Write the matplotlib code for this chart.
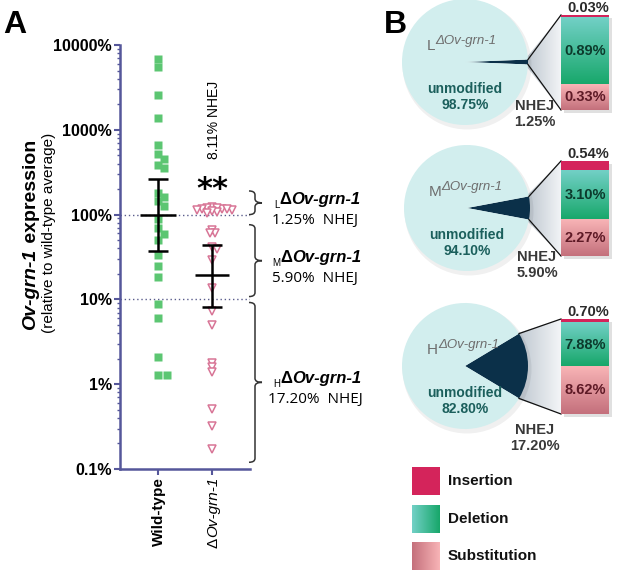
import numpy as np
import matplotlib
matplotlib.use("Agg")
import matplotlib.pyplot as plt
from matplotlib.patches import Rectangle, Polygon, PathPatch, Circle
from matplotlib.path import Path
from matplotlib.ticker import LogLocator, NullFormatter, FixedLocator
import matplotlib.colors as mcolors

W, H = 617, 573
plt.rcParams['font.family'] = ['Liberation Sans', 'DejaVu Sans']

# ---- panel A data: expression, % of wild-type average ----
groups = ["Wild-type", "ΔOv-grn-1"]
wt_expr = [6840, 5500, 2580, 1380, 665, 525, 455, 380, 355, 180, 163, 146, 128,
           88, 69, 59, 50, 33, 25, 18.6, 8.9, 6.0, 2.1, 1.28, 1.3]
ko_expr = [124, 118, 121, 112, 119, 108, 115, 110, 117, 105, 113,
           66, 61, 61, 42, 39, 29, 13.8, 7.3, 5.0, 1.8, 1.6, 1.4, 0.51, 0.32, 0.17]
wt_mean, wt_lo, wt_hi = 100, 37, 265
ko_mean, ko_lo, ko_hi = 19.6, 8.1, 44
y_ticks = [0.1, 1, 10, 100, 1000, 10000]
y_tick_labels = ["0.1%", "1%", "10%", "100%", "1000%", "10000%"]
ref_lines = [100, 10]
ko_overall = "8.11% NHEJ"

# knock-down subgroups (brackets)
sub_names = ["L", "M", "H"]
sub_top = [190, 76, 9.2]
sub_bot = [100, 10.8, 0.12]
nhej = [1.25, 5.90, 17.20]

# ---- panel B data (% of reads) ----
unmodified = [98.75, 94.10, 82.80]
insertion = [0.03, 0.54, 0.70]
deletion = [0.89, 3.10, 7.88]
substitution = [0.33, 2.27, 8.62]
legend_names = ["Insertion", "Deletion", "Substitution"]

fig = plt.figure(figsize=(W / 100, H / 100), dpi=100)
ax = fig.add_axes([120 / W, 1 - 469 / H, 130 / W, 424 / H])
ov = fig.add_axes([0, 0, 1, 1], zorder=5)
ov.set_xlim(0, W)
ov.set_ylim(H, 0)
ov.axis('off')
ov.patch.set_alpha(0)
rend = fig.canvas.get_renderer()

spine_c = '#55579a'
ax.set_yscale('log')
ax.set_ylim(0.1, 10000)
ax.set_xlim(-0.7, 1.7)
for s in ['top', 'right']:
    ax.spines[s].set_visible(False)
for s in ['left', 'bottom']:
    ax.spines[s].set_color(spine_c)
    ax.spines[s].set_linewidth(1.8)
ax.yaxis.set_major_locator(FixedLocator(y_ticks))
ax.set_yticklabels(y_tick_labels, fontsize=11.5, fontweight='bold')
ax.yaxis.set_minor_locator(LogLocator(base=10, subs=range(2, 10)))
ax.yaxis.set_minor_formatter(NullFormatter())
ax.tick_params(axis='y', which='major', length=4, width=1.5, color=spine_c, pad=2)
ax.tick_params(axis='y', which='minor', length=2.5, width=1, color=spine_c)
ax.set_xticks([0, 1])
ax.set_xticklabels(['', ''])
ax.tick_params(axis='x', length=4, width=1.5, color=spine_c)
ax.patch.set_alpha(0)

for v in ref_lines:
    ax.axhline(v, color='#5a5c8c', lw=1, ls=(0, (1, 2)), zorder=1)


def swarm(xc, vals, min_d=6.5, step=3.0):
    placed = []
    out = [0] * len(vals)
    x0 = ax.transData.transform((xc, 1))[0]
    cands = [0.0]
    for j in range(1, 20):
        cands += [j * step, -j * step]
    for i in sorted(range(len(vals)), key=lambda k: -vals[k]):
        yd = ax.transData.transform((xc, vals[i]))[1]
        for off in cands:
            if all((off - px) ** 2 + (yd - py) ** 2 >= min_d ** 2 for px, py in placed):
                break
        placed.append((off, yd))
        out[i] = ax.transData.inverted().transform((x0 + off, yd))[0]
    return out


ax.plot(swarm(0, wt_expr), wt_expr, 's', color='#5cc672', ms=5.2, mec='none',
        zorder=3, clip_on=False)
ax.plot(swarm(1, ko_expr, min_d=3.8, step=2.5), ko_expr, 'v', mfc='white', mec='#d87596',
        ms=5.8, mew=1.1, zorder=3, clip_on=False)

for xc, m, lo, hi, half in [(0, wt_mean, wt_lo, wt_hi, 0.34), (1, ko_mean, ko_lo, ko_hi, 0.31)]:
    ax.hlines(m, xc - half, xc + half, color='k', lw=1.8, zorder=4)
    ax.hlines([lo, hi], xc - 0.18, xc + 0.18, color='k', lw=1.8, zorder=4)
    ax.vlines(xc, lo, hi, color='k', lw=1.8, zorder=4)


def rich(x, y, pieces, rot=0, align='center', size=10, color='k'):
    arts = []
    pos = 0.0
    for s, p in pieces:
        props = dict(fontsize=size, color=color)
        props.update(p)
        dy = props.pop('dy', 0)
        if rot == 0:
            t = ov.text(x + pos, y - dy, s, ha='left', va='baseline', **props)
            ln = t.get_window_extent(rend).width
        else:
            t = ov.text(x, y - pos, s, rotation=90, rotation_mode='anchor',
                        ha='left', va='center_baseline', **props)
            ln = t.get_window_extent(rend).height
        arts.append(t)
        pos += ln
    shift = {'left': 0, 'center': pos / 2, 'right': pos}[align]
    for t in arts:
        tx, ty = t.get_position()
        if rot == 0:
            t.set_position((tx - shift, ty))
        else:
            t.set_position((tx, ty + shift))
    return arts


def pix(xd, yd):
    return ov.transData.inverted().transform(ax.transData.transform((xd, yd)))


# axis labels
bi = dict(fontweight='bold', style='italic')
rich(29, 235, [("Ov-grn-1", bi), (" expression", dict(fontweight='bold'))], rot=90, size=14)
rich(47, 233, [("(relative to wild-type average)", {})], rot=90, size=11)
rich(pix(0, 1)[0], 477, [(groups[0], dict(fontweight='bold'))], rot=90, align='right', size=11)
rich(pix(1, 1)[0], 477, [("Δ", {}), ("Ov-grn-1", dict(style='italic'))], rot=90,
     align='right', size=11)
rich(pix(1, 1)[0], 120, [(ko_overall, {})], rot=90, size=10)
ov.text(pix(1, 1)[0], 190, "**", ha='center', va='center', fontsize=22,
        fontweight='bold', family='DejaVu Sans')

# brackets
for nm, top, bot, pc in zip(sub_names, sub_top, sub_bot, nhej):
    y0 = pix(0, top)[1]
    y1 = pix(0, bot)[1]
    ym = (y0 + y1) / 2
    xa, xm, xt, r = 249, 255, 262, 4
    verts = [(xa, y0), (xm, y0), (xm, y0 + r), (xm, ym - r), (xm, ym), (xt, ym),
             (xm, ym), (xm, ym + r), (xm, y1 - r), (xm, y1), (xa, y1)]
    codes = [Path.MOVETO, Path.CURVE3, Path.CURVE3, Path.LINETO, Path.CURVE3, Path.CURVE3,
             Path.CURVE3, Path.CURVE3, Path.LINETO, Path.CURVE3, Path.CURVE3]
    ov.add_patch(PathPatch(Path(verts, codes), fc='none', ec='#333333', lw=1.1))
    rich(317, ym + 1, [(nm, dict(fontsize=7, dy=-4)), ("Δ", dict(fontweight='bold')),
                       ("Ov-grn-1", bi)], size=12)
    rich(315, ym + 21, [(f"{pc:.2f}%  NHEJ", dict(family='Open Sans'))], size=11)

# ---- panel B ----
pie_cx = [465, 467, 465]
pie_cy = [62, 208, 366]
pie_r = 63
nhej_dy = [44, 49, 64]
bar_x, bar_w, bar_h = 561, 48, 95
c_pie, c_nhej, c_ins = '#d2eeee', '#0b3049', '#d4245b'
del_top, del_bot = '#72d0c6', '#17a76a'
sub_top_c, sub_bot_c = '#f8b4b6', '#c4707c'


def grad(x0, y0, w, h, c1, c2, horizontal=False, clip=None, z=3):
    n = 64
    a = np.array(mcolors.to_rgb(c1))
    b = np.array(mcolors.to_rgb(c2))
    t = np.linspace(0, 1, n)[:, None]
    img = (a + (b - a) * t)
    img = img[None, :, :] if horizontal else img[:, None, :]
    im = ov.imshow(img, extent=(x0, x0 + w, y0 + h, y0), origin='upper',
                   aspect='auto', interpolation='bilinear', zorder=z)
    if clip is not None:
        im.set_clip_path(clip)
    return im


for i in range(3):
    cx, cy = pie_cx[i], pie_cy[i]
    half = np.radians(nhej[i] * 3.6 / 2)
    ex = cx + pie_r * np.cos(half)
    ey_u = cy - pie_r * np.sin(half)
    ey_l = cy + pie_r * np.sin(half)
    top = cy - 47
    bot = top + bar_h
    # shading fan
    fan = Polygon([(ex - 3, ey_u), (bar_x, top), (bar_x, bot), (ex - 3, ey_l)],
                  closed=True, fc='none', ec='none')
    ov.add_patch(fan)
    grad(ex - 3, top, bar_x - ex + 3, bar_h, '#bcc5ce', '#f3f5f7', horizontal=True,
         clip=fan, z=1)
    # pie shadow and pie
    ov.add_patch(Circle((cx + 2, cy + 3), pie_r + 1.5, fc='#000000',
                        alpha=0.06, ec='none', zorder=1.5))
    ov.pie([nhej[i], unmodified[i]], center=(cx, cy), radius=pie_r,
           startangle=-nhej[i] * 3.6 / 2, colors=[c_nhej, c_pie], frame=True,
           wedgeprops=dict(linewidth=0, zorder=2))
    ov.plot([ex, bar_x], [ey_u, top], color='#111111', lw=0.9, zorder=3)
    ov.plot([ex, bar_x], [ey_l, bot], color='#111111', lw=0.9, zorder=3)
    # stacked bar, normalised to NHEJ total
    tot = insertion[i] + deletion[i] + substitution[i]
    h_ins = max(bar_h * insertion[i] / tot, 2)
    h_del = bar_h * deletion[i] / tot
    h_sub = bar_h - h_ins - h_del
    ov.add_patch(Rectangle((bar_x + 3, top + 3), bar_w, bar_h, fc='#000000', alpha=0.12,
                           ec='none', zorder=2.5))
    ov.add_patch(Rectangle((bar_x, top), bar_w, h_ins, fc=c_ins, ec='none', zorder=4))
    grad(bar_x, top + h_ins, bar_w, h_del, del_top, del_bot, z=4)
    grad(bar_x, top + h_ins + h_del, bar_w, h_sub, sub_top_c, sub_bot_c, z=4)
    bc = bar_x + bar_w / 2
    ov.text(bc + 3, top - 7, f"{insertion[i]:.2f}%", ha='center', va='center',
            fontsize=10.5, fontweight='bold', color='#2a2a2a', zorder=6)
    ov.text(bc, top + h_ins + h_del / 2, f"{deletion[i]:.2f}%", ha='center', va='center',
            fontsize=10.5, fontweight='bold', color='#0c3a2c', zorder=6)
    ov.text(bc, top + h_ins + h_del + h_sub / 2, f"{substitution[i]:.2f}%", ha='center',
            va='center', fontsize=10.5, fontweight='bold', color='#5e1a26', zorder=6)
    # pie texts
    rich(cx - 38, cy - 12, [(sub_names[i], dict(fontsize=11)),
                            ("ΔOv-grn-1", dict(fontsize=9.5, style='italic', dy=6))],
         align='left', color='#6e6e6e')
    ov.text(cx, cy + 27, "unmodified", ha='center', va='center', fontsize=10,
            fontweight='bold', color='#1b5f5c')
    ov.text(cx, cy + 43, f"{unmodified[i]:.2f}%", ha='center', va='center', fontsize=10,
            fontweight='bold', color='#1b5f5c')
    ov.text(cx + 70, cy + nhej_dy[i], "NHEJ", ha='center', va='center', fontsize=10.5,
            fontweight='bold', color='#383838')
    ov.text(cx + 70, cy + nhej_dy[i] + 16, f"{nhej[i]:.2f}%", ha='center', va='center',
            fontsize=10.5, fontweight='bold', color='#383838')

# legend
leg_y = [467, 505, 542]
ov.add_patch(Rectangle((412, leg_y[0]), 28, 28, fc=c_ins, ec='none'))
grad(412, leg_y[1], 28, 28, del_top, del_bot, horizontal=True)
grad(412, leg_y[2], 28, 28, sub_bot_c, sub_top_c, horizontal=True)
for yy, nm in zip(leg_y, legend_names):
    ov.text(448, yy + 14, nm, ha='left', va='center', fontsize=11, fontweight='bold',
            color='#111111')

ov.text(3, 33, "A", fontsize=23, fontweight='bold', ha='left', va='baseline')
ov.text(384, 33, "B", fontsize=23, fontweight='bold', ha='left', va='baseline')

ov.set_xlim(0, W)
ov.set_ylim(H, 0)
ov.set_aspect('auto')
fig.savefig('out.png', dpi=100)
